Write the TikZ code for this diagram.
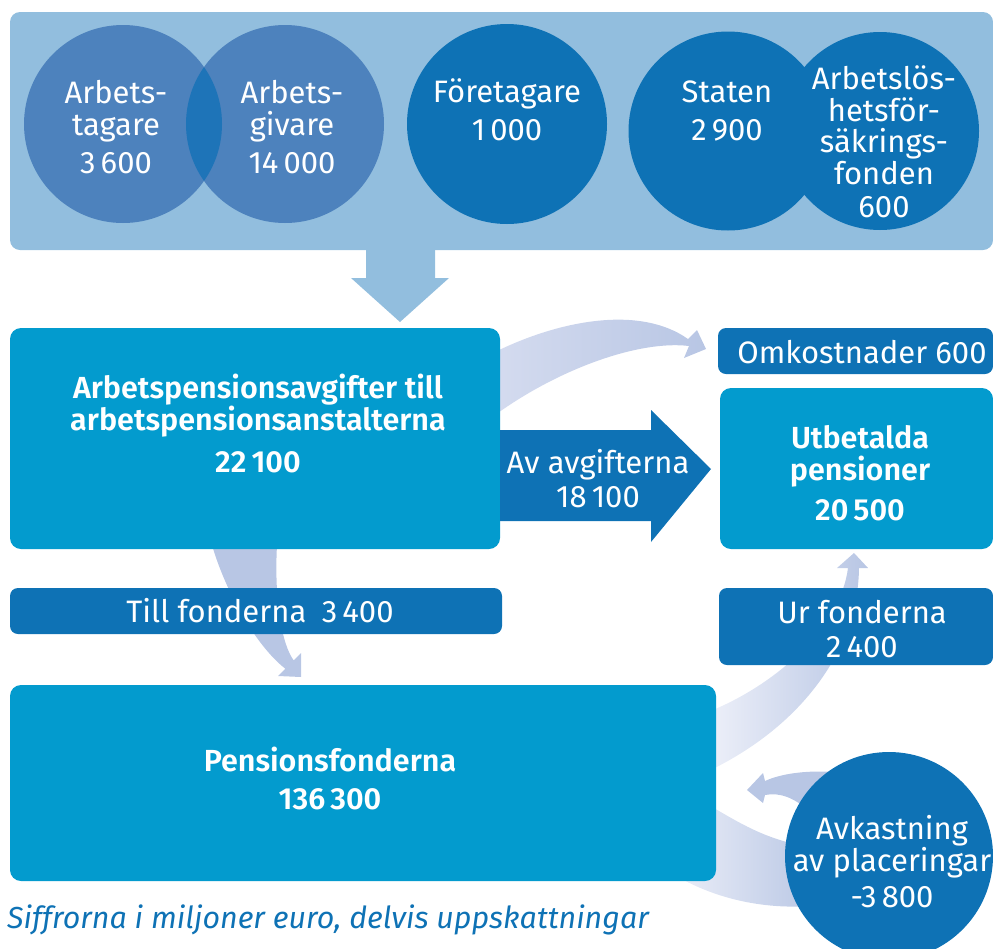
\documentclass[tikz,border=0pt]{standalone}
\usepackage{fontspec}
\setmainfont{Fira Sans}[BoldFont={Fira Sans SemiBold}]
\usetikzlibrary{backgrounds}
\definecolor{topbg}{RGB}{146,190,222}
\definecolor{circa}{RGB}{77,130,189}
\definecolor{circx}{RGB}{30,116,184}
\definecolor{darkb}{RGB}{14,114,181}
\definecolor{lightb}{RGB}{3,155,206}
\definecolor{band}{RGB}{184,198,228}
\definecolor{bandlt}{RGB}{212,219,239}
\definecolor{bandwh}{RGB}{240,242,250}
\tikzset{
  boxL/.style={fill=lightb, rounded corners=11pt, inner sep=0pt},
  boxD/.style={fill=darkb, rounded corners=8pt, inner sep=0pt},
  circ/.style={circle, inner sep=0pt, minimum size=#1},
  wt/.style={text=white, align=center, inner sep=0pt, font=\fontsize{31}{32}\selectfont},
  wb/.style={text=white, align=center, inner sep=0pt, font=\fontsize{30.5}{32}\selectfont\bfseries},
  capt/.style={text=darkb, inner sep=0pt, anchor=west, font=\fontsize{30.4}{32}\selectfont\itshape},
}
\begin{document}
\begin{tikzpicture}[x=1pt,y=-1pt]
\useasboundingbox (0,0) rectangle (993,948);

% top panel
\node[fill=topbg, rounded corners=10pt, inner sep=0pt, minimum width=983, minimum height=238] (top) at (501.5,131) {};
\node[circ=198, fill=circa] (arbt) at (123,124) {};
\node[circ=198, fill=circa] (arbg) at (285,124) {};
\begin{scope}
  \clip (arbt.center) circle[radius=99];
  \fill[circx] (arbg.center) circle[radius=99];
\end{scope}
\node[circ=200, fill=darkb] (fore) at (507,124) {};
\node[circ=199, fill=darkb] (stat) at (728,131) {};
\node[circ=198, fill=darkb] (aff) at (880,131) {};

\node[wt] (arbt-t) at (116,127) {Arbets-\\tagare\\[6pt]3\,600};
\node[wt] (arbg-t) at (292,127) {Arbets-\\givare\\[6pt]14\,000};
\node[wt] (fore-t) at (507,110) {Företagare\\[6pt]1\,000};
\node[wt] (stat-t) at (727,111) {Staten\\[6pt]2\,900};
\node[wt, font=\fontsize{31}{31.5}\selectfont] (aff-t) at (884,142) {Arbetslös-\\hetsför-\\säkrings-\\fonden\\[2pt]600};

% down arrow from top panel
\fill[topbg] (366,249) -- (435,249) -- (435,278) -- (449,278) -- (400,322) -- (351,278) -- (366,278) -- cycle;

% boxes
\node[boxL, minimum width=490, minimum height=221] (big) at (255,438.5) {};
\node[boxD, minimum width=275, minimum height=46] (omk) at (855.5,351) {};
\node[boxL, minimum width=273, minimum height=161] (utb) at (856.5,468.5) {};
\node[boxD, minimum width=492, minimum height=46] (till) at (256,611) {};
\node[boxD, minimum width=274, minimum height=77] (ur) at (856,626.5) {};
\node[boxL, minimum width=706, minimum height=196] (pf) at (363,783) {};
\node[circ=208, fill=darkb] (avk) at (889,856) {};

% Av avgifterna arrow
\fill[darkb] (500,430) -- (651,430) -- (651,410) -- (711,469) -- (651,542) -- (651,521) -- (500,521) -- cycle;

% texts
\node[wb] (big-t) at (258,423) {Arbetspensionsavgifter till\\arbetspensionsanstalterna\\[10pt]22\,100};
\node[wt] (omk-t) at (862,352) {Omkostnader 600};
\node[wb] (utb-t) at (860,473) {Utbetalda\\pensioner\\[8pt]20\,500};
\node[wt] (av-t) at (598,479) {Av avgifterna\\[2pt]18\,100};
\node[wt] (till-t) at (260,611) {Till fonderna\enspace 3\,400};
\node[wt] (ur-t) at (862,629) {Ur fonderna\\[2pt]2\,400};
\node[wb] (pf-t) at (330,778) {Pensionsfonderna\\[6pt]136\,300};
\node[wt] (avk-t) at (892,862) {Avkastning\\av placeringar\\[4pt]-3\,800};
\node[capt] (cap) at (7,920) {Siffrorna i miljoner euro, delvis uppskattningar};

% curved band arrows behind
\begin{pgfonlayer}{background}
  % to Omkostnader
  \shade[left color=bandlt, right color=band]
    (495,352) .. controls (560,320) and (640,305) .. (688,339) -- (697,330) -- (706,349) -- (684,358) -- (689,346)
    .. controls (640,340) and (560,368) .. (495,415) -- cycle;
  % to Pensionsfonderna
  \fill[band]
    (212,545) .. controls (225,590) and (255,645) .. (285.3,668.7) -- (278,676) -- (301,677) -- (301,653) -- (293.7,660.3)
    .. controls (282,645) and (274,600) .. (277,545) -- cycle;
  % from Pensionsfonderna to Utbetalda
  \shade[left color=bandwh, right color=band]
    (700,715) .. controls (770,690) and (840,630) .. (848,568) -- (837,568) -- (854,553) -- (868,568) -- (859,568)
    .. controls (858,650) and (800,730) .. (700,775) -- cycle;
  % loop to Avkastning
  \shade[left color=bandwh, right color=band]
    (690,795) .. controls (730,815) and (760,842) .. (820,848) -- (820,905)
    .. controls (760,912) and (700,895) .. (660,865) -- cycle;
  % back from Avkastning
  \fill[band]
    (835,772) .. controls (805,770) and (780,774) .. (765,781) -- (763,773) -- (747,790) -- (763,803) -- (765,795)
    .. controls (780,792) and (795,798) .. (810,812) -- cycle;
\end{pgfonlayer}
\end{tikzpicture}
\end{document}
